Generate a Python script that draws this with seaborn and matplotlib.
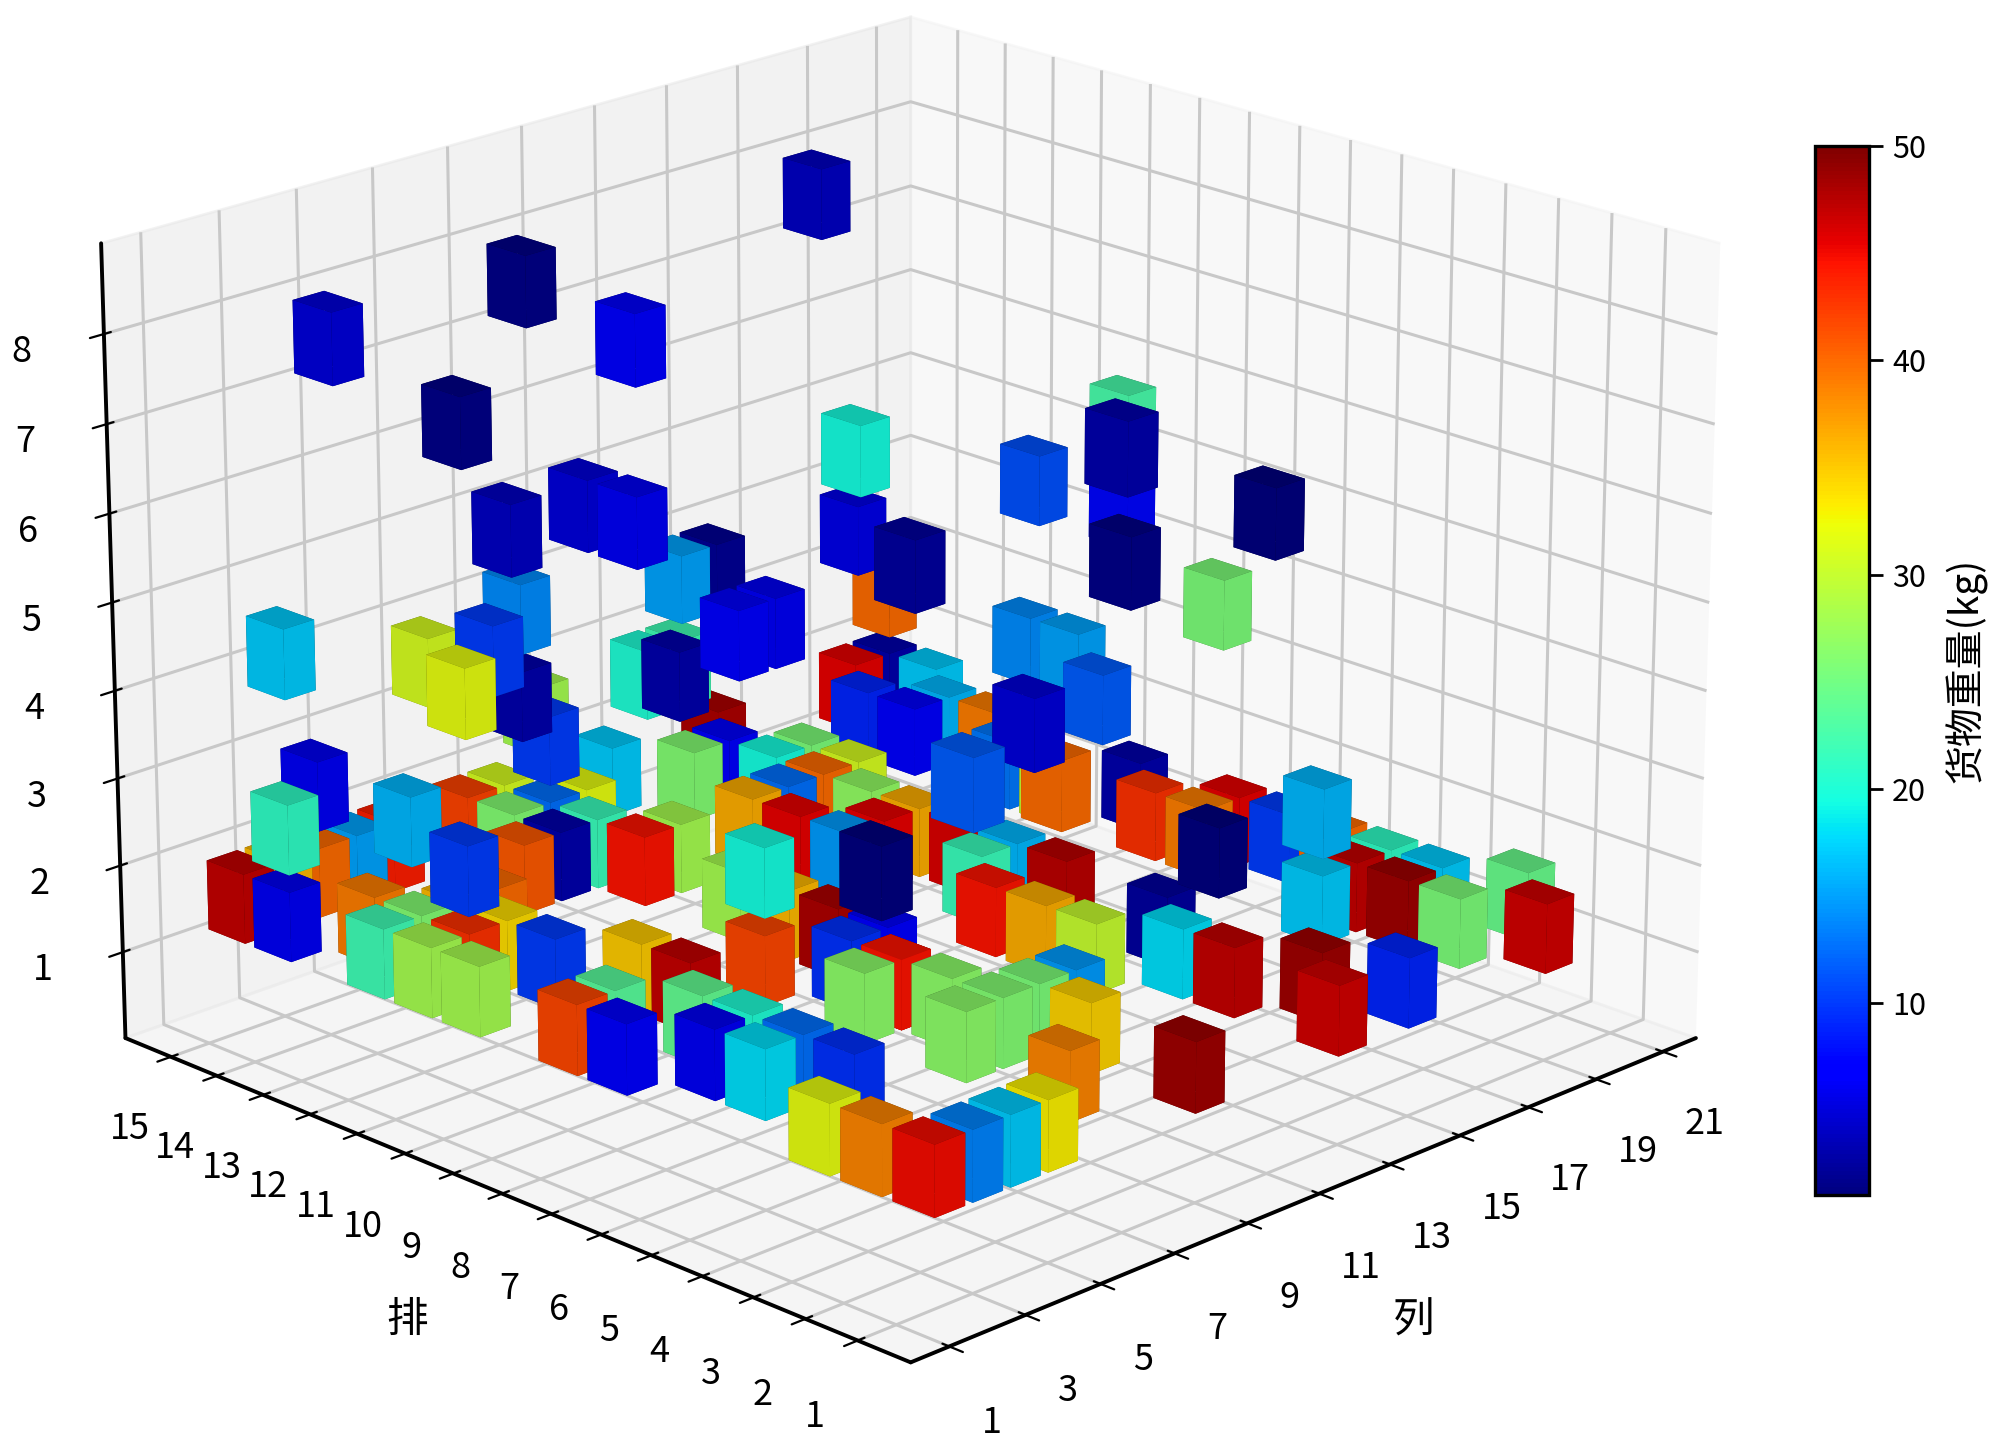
import numpy as np
import matplotlib
matplotlib.use('Agg')
import matplotlib.pyplot as plt
import seaborn as sns
from matplotlib.colors import Normalize
from matplotlib.cm import ScalarMappable

# col, row, level, weight of every stored box
col = [2, 7, 3, 7, 5, 7, 10, 9, 12, 13, 13, 14, 4, 2, 4, 8, 9, 9, 8, 9, 10, 8, 9, 10, 7, 3, 5, 4, 6, 2, 2, 3, 3, 3, 2, 5, 4, 3, 4, 2, 2, 4, 5, 5,
       14, 15, 10, 9, 10, 20, 7, 15, 14, 14, 15, 19, 20, 20, 19, 18, 18, 19, 18, 6, 20, 20, 15, 19, 3, 18, 11, 15, 14, 13, 12, 14, 14, 12, 13, 12, 2, 7, 9, 9, 9, 7, 8, 9, 8, 14, 14, 13, 14, 12, 12, 12,
       17, 18, 18, 19, 14, 19, 17, 19, 19, 19, 18, 18, 17, 18, 20, 19, 14, 13, 13, 14, 15,
       2, 2, 2, 3, 4, 5, 7, 9, 9, 10, 8, 7, 8, 8, 7, 4, 4, 3, 4, 3, 4,
       2, 2, 3, 9, 13,
       5, 3, 11, 20, 7, 16, 20, 3, 5, 5, 14, 10, 15, 14, 6, 1]
row = [14, 15, 11, 13, 12, 13, 15, 14, 15, 14, 15, 15, 15, 14, 13, 15, 15, 14, 14, 13, 14, 13, 12, 12, 13, 11, 15, 15, 15, 15, 14, 15, 13, 12, 12, 12, 12, 11, 11, 11, 10, 10, 9, 8,
       15, 15, 10, 10, 12, 15, 5, 15, 14, 13, 13, 15, 15, 14, 13, 14, 13, 12, 11, 2, 12, 11, 7, 9, 1, 10, 5, 12, 12, 12, 12, 11, 10, 11, 10, 10, 2, 8, 10, 9, 8, 8, 7, 7, 6, 9, 8, 8, 7, 7, 6, 5,
       6, 8, 7, 7, 4, 6, 4, 5, 4, 3, 4, 3, 4, 2, 2, 1, 5, 4, 3, 2, 1,
       3, 2, 1, 1, 1, 1, 2, 3, 4, 4, 4, 4, 5, 6, 6, 4, 5, 5, 6, 6, 7,
       8, 7, 8, 1, 1,
       9, 11, 9, 10, 1, 9, 10, 10, 10, 9, 3, 3, 12, 12, 12, 12]
level = [4, 3, 4, 4, 4, 3, 2, 2, 1, 1, 2, 2, 2, 2, 2, 1, 1, 1, 1, 1, 1, 1, 1, 1, 1, 2, 1, 1, 1, 1, 1, 1, 1, 1, 1, 1, 1, 1, 1, 1, 1, 1, 1, 1,
         3, 3, 4, 4, 3, 2, 6, 1, 1, 1, 1, 1, 1, 1, 1, 1, 1, 1, 1, 5, 2, 2, 3, 1, 5, 1, 3, 1, 1, 1, 1, 1, 1, 1, 1, 1, 4, 2, 1, 1, 1, 1, 1, 1, 1, 1, 1, 1, 1, 1, 1, 1,
         4, 1, 1, 1, 2, 1, 2, 1, 1, 1, 1, 1, 1, 1, 1, 1, 1, 1, 1, 1, 1,
         1, 1, 1, 1, 1, 1, 1, 1, 1, 1, 1, 1, 1, 1, 1, 1, 1, 1, 1, 1, 1,
         1, 1, 1, 1, 1,
         8, 7, 6, 5, 8, 5, 4, 6, 6, 6, 6, 6, 4, 8, 8, 8]
weight = [17, 31, 32, 14, 10, 3, 28, 10, 17, 26, 20, 22, 6, 21, 16, 42, 31, 12.5, 26, 21.5, 32, 3, 44.5, 28, 41, 10, 15, 40, 44, 47, 6, 36, 39, 26, 22, 40, 36, 43, 34, 28, 28, 10, 35, 47,
          15, 2, 6, 6.5, 3, 40, 2.5, 48, 6.5, 19.5, 25.5, 45.5, 3, 17, 16, 9, 6.5, 39, 13, 5, 14, 15, 11.7, 3, 11.7, 30, 40, 31, 40, 12.5, 36.5, 27, 36.5, 45.5, 45.5, 14.7, 1, 19.5, 28, 36, 48, 41.8, 9.5, 6.5, 45, 46, 16, 21.5, 47.5, 44.5, 36.5, 30,
          25.5, 43, 39, 45.5, 1, 10, 16, 40, 21, 17, 47, 48.5, 17, 25.5, 24.5, 46.5, 2.5, 18, 47, 48.5, 9,
          32, 38.7, 45, 13.5, 17, 33, 38.7, 34.6, 25.6, 14.7, 26, 26.6, 26.6, 44.5, 26.6, 9.5, 12.5, 18, 20, 6, 24,
          41.8, 6.4, 23.4, 48.5, 46.5,
          7, 1.5, 19.5, 22.5, 3, 11, 7.5, 4, 5, 6, 1, 1.5, 5.5, 4, 1.5, 5]
x_ticks = list(range(1, 22, 2))
y_ticks = list(range(1, 16))
z_ticks = list(range(1, 9))
bar_ticks = [10, 20, 30, 40, 50]

sns.set_style('white')
plt.rcParams['font.family'] = ['Noto Sans CJK SC', 'DejaVu Sans']
plt.rcParams['text.color'] = 'black'
plt.rcParams['axes.labelcolor'] = 'black'
plt.rcParams['xtick.color'] = 'black'
plt.rcParams['ytick.color'] = 'black'
plt.rcParams['grid.color'] = '#c8c8c8'
plt.rcParams['grid.linewidth'] = 1.1
plt.rcParams['axes.unicode_minus'] = False

jet = plt.get_cmap('jet')
norm = Normalize(1, 50)
colors = jet(norm(np.array(weight)))

fig = plt.figure(figsize=(10, 7.24), dpi=200)
ax = fig.add_axes([0.0055, -0.068, 0.876, 1.21], projection='3d')
ax.bar3d(col, row, level, 0.8, 0.8, 0.8, color=colors, edgecolor='none', linewidth=0)
ax.view_init(elev=20, azim=-135)
ax.set_xlim(0, 22)
ax.set_ylim(0, 16)
ax.set_zlim(0, 9)
ax.set_xticks(x_ticks)
ax.set_yticks(y_ticks)
ax.set_zticks(z_ticks)
ax.tick_params(labelsize=13, width=1.2)
ax.tick_params(axis='x', pad=8.5)
ax.tick_params(axis='y', pad=8.5)
ax.tick_params(axis='z', pad=8.7)
ax.set_xlabel('列', fontsize=15, labelpad=16)
ax.set_ylabel('排', fontsize=15, labelpad=16)
for a in (ax.xaxis, ax.yaxis, ax.zaxis):
    a.line.set_color('black')
    a.line.set_linewidth(1.4)

cax = fig.add_axes([0.9075, 0.1744, 0.0268, 0.7246])
cb = fig.colorbar(ScalarMappable(norm=norm, cmap=jet), cax=cax, ticks=bar_ticks)
cb.ax.tick_params(labelsize=11, length=5, width=1)
cb.outline.set_linewidth(1.2)
cb.outline.set_edgecolor('black')
cb.set_label('货物重量(kg)', fontsize=14, labelpad=7)

fig.savefig('out.png')
